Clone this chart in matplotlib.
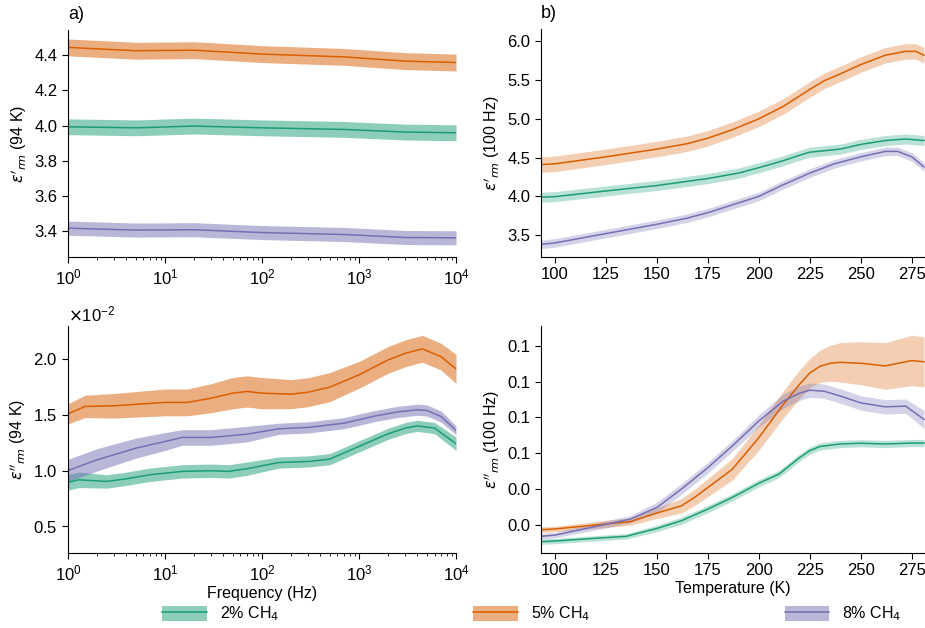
import numpy as np
import matplotlib
matplotlib.use("Agg")
import matplotlib.pyplot as plt
from matplotlib.ticker import FormatStrFormatter, ScalarFormatter, FixedLocator

plt.rcParams['font.family'] = ['Liberation Sans', 'DejaVu Sans']
plt.rcParams['font.size'] = 11.5
plt.rcParams['mathtext.fontset'] = 'dejavusans'

labels = ['2% CH$_4$', '5% CH$_4$', '8% CH$_4$']
colors = ['#1b9e77', '#d95f02', '#7570b3']

# a) top: eps' at 94 K vs frequency
freq_a = [1, 5, 20, 100, 700, 3000, 10000]
eps1_f = {
    '2': [3.993, 3.987, 3.997, 3.987, 3.978, 3.963, 3.959],
    '5': [4.444, 4.425, 4.428, 4.406, 4.390, 4.366, 4.358],
    '8': [3.417, 3.406, 3.408, 3.392, 3.381, 3.364, 3.362],
}
eps1_f_err = {'2': 0.045, '5': 0.048, '8': 0.04}

# a) bottom: eps'' at 94 K vs frequency (x1e-2)
freq_o5 = [1, 1.5, 3, 10, 17, 30, 50, 70, 100, 200, 300, 500, 1000, 2000, 3000, 4500, 7000, 10000]
eps2_f_5 = [1.508, 1.574, 1.58, 1.61, 1.61, 1.648, 1.693, 1.708, 1.693, 1.684, 1.702, 1.747, 1.857, 1.991, 2.05, 2.09, 2.02, 1.91]
err2_f_5 = [0.09, 0.1, 0.11, 0.12, 0.12, 0.13, 0.14, 0.14, 0.14, 0.13, 0.13, 0.13, 0.12, 0.12, 0.12, 0.12, 0.12, 0.13]

freq_p8 = [1, 2, 5, 10, 15, 30, 70, 150, 300, 700, 1500, 2500, 4000, 5000, 7000, 10000]
eps2_f_8 = [1.0, 1.096, 1.2, 1.26, 1.296, 1.296, 1.326, 1.374, 1.386, 1.424, 1.49, 1.525, 1.544, 1.538, 1.484, 1.359]
err2_f_8 = [0.1, 0.1, 0.09, 0.08, 0.07, 0.07, 0.07, 0.05, 0.05, 0.05, 0.05, 0.05, 0.05, 0.05, 0.05, 0.04]

freq_g2 = [1, 1.3, 2.5, 4, 7, 15, 30, 45, 70, 150, 300, 500, 1000, 2000, 3000, 4000, 6000, 10000]
eps2_f_2 = [0.894, 0.917, 0.902, 0.926, 0.962, 0.992, 0.998, 0.992, 1.016, 1.072, 1.081, 1.102, 1.216, 1.329, 1.38, 1.40, 1.38, 1.24]
err2_f_2 = [0.07, 0.07, 0.06, 0.06, 0.06, 0.06, 0.06, 0.06, 0.06, 0.05, 0.05, 0.05, 0.05, 0.05, 0.05, 0.05, 0.05, 0.06]

# b) top: eps' at 100 Hz vs temperature
temp_b1 = {
    '2': [93, 100, 125, 150, 175, 190, 200, 212, 220, 225, 240, 250, 262, 272, 281],
    '5': [93, 100, 125, 150, 165, 175, 187, 200, 212, 225, 232, 240, 250, 262, 272, 277, 281],
    '8': [93, 100, 125, 150, 165, 175, 187, 200, 212, 225, 237, 250, 262, 268, 275, 281],
}
eps1_t = {
    '2': [3.99, 3.996, 4.07, 4.14, 4.23, 4.30, 4.37, 4.46, 4.53, 4.57, 4.61, 4.67, 4.72, 4.74, 4.72],
    '5': [4.41, 4.42, 4.51, 4.61, 4.68, 4.75, 4.86, 5.00, 5.16, 5.38, 5.49, 5.58, 5.70, 5.82, 5.87, 5.87, 5.82],
    '8': [3.38, 3.40, 3.52, 3.64, 3.72, 3.79, 3.89, 4.00, 4.15, 4.30, 4.42, 4.51, 4.58, 4.58, 4.51, 4.38],
}
eps1_t_err = {'2': 0.065, '5': 0.1, '8': 0.055}

# b) bottom: eps'' at 100 Hz vs temperature
temp_b2 = {
    '2': [93, 100, 125, 135, 142, 150, 162, 175, 187, 200, 210, 220, 225, 230, 240, 250, 262, 275, 281],
    '5': [93, 100, 125, 137, 150, 162, 168, 175, 187, 200, 212, 220, 225, 230, 235, 240, 250, 262, 275, 281],
    '8': [93, 100, 125, 137, 150, 162, 175, 187, 200, 212, 220, 225, 232, 240, 250, 262, 272, 281],
}
eps2_t = {
    '2': [0.0107, 0.0111, 0.0130, 0.0137, 0.0158, 0.0181, 0.0224, 0.0289, 0.0354, 0.0433, 0.0485, 0.0576, 0.0615, 0.0638, 0.0652, 0.0656, 0.0652, 0.0657, 0.0657],
    '5': [0.0174, 0.0178, 0.0206, 0.0219, 0.0267, 0.0307, 0.0350, 0.0409, 0.0511, 0.0687, 0.0872, 0.0985, 0.1048, 0.1085, 0.1102, 0.1107, 0.1102, 0.1087, 0.1117, 0.111],
    '8': [0.0137, 0.0144, 0.0204, 0.0233, 0.0298, 0.040, 0.052, 0.0641, 0.078, 0.0891, 0.0935, 0.0952, 0.0946, 0.0919, 0.0881, 0.0859, 0.0863, 0.0789],
}
eps2_t_err = {
    '2': [0.0015, 0.0015, 0.0015, 0.0015, 0.0016, 0.0018, 0.002, 0.002, 0.002, 0.002, 0.002, 0.002, 0.002, 0.002, 0.002, 0.002, 0.002, 0.002, 0.002],
    '5': [0.0015, 0.0015, 0.002, 0.002, 0.003, 0.004, 0.0045, 0.005, 0.006, 0.007, 0.0075, 0.008, 0.008, 0.009, 0.01, 0.011, 0.012, 0.013, 0.014, 0.014],
    '8': [0.0015, 0.0015, 0.002, 0.002, 0.003, 0.003, 0.003, 0.003, 0.0035, 0.004, 0.004, 0.004, 0.004, 0.004, 0.004, 0.004, 0.004, 0.005],
}

keys = ['2', '5', '8']

fig = plt.figure(figsize=(9.25, 6.28), dpi=100)
ax1 = fig.add_axes([0.0735, 0.591, 0.4195, 0.361])
ax2 = fig.add_axes([0.0735, 0.1194, 0.4195, 0.3616])
ax3 = fig.add_axes([0.5845, 0.591, 0.4155, 0.363])
ax4 = fig.add_axes([0.5845, 0.1194, 0.4155, 0.3616])


def band(ax, x, y, e, c, a):
    x = np.asarray(x)
    y = np.asarray(y)
    e = np.asarray(e)
    ax.fill_between(x, y - e, y + e, color=c, alpha=a, lw=0)
    ax.plot(x, y, color=c, lw=1.1)


for k, c in zip(keys, colors):
    band(ax1, freq_a, eps1_f[k], eps1_f_err[k], c, 0.5)

band(ax2, freq_g2, np.array(eps2_f_2) * 1e-2, np.array(err2_f_2) * 1e-2, colors[0], 0.5)
band(ax2, freq_o5, np.array(eps2_f_5) * 1e-2, np.array(err2_f_5) * 1e-2, colors[1], 0.5)
band(ax2, freq_p8, np.array(eps2_f_8) * 1e-2, np.array(err2_f_8) * 1e-2, colors[2], 0.5)

for k, c in zip(keys, colors):
    band(ax3, temp_b1[k], eps1_t[k], eps1_t_err[k], c, 0.3)
    band(ax4, temp_b2[k], eps2_t[k], eps2_t_err[k], c, 0.3)

for ax in (ax1, ax2):
    ax.set_xscale('log')
    ax.set_xlim(1, 1e4)
for ax in (ax3, ax4):
    ax.set_xlim(93, 281.5)
    ax.set_xticks([100, 125, 150, 175, 200, 225, 250, 275])

ax1.set_ylim(3.254, 4.542)
ax1.set_yticks([3.4, 3.6, 3.8, 4.0, 4.2, 4.4])
ax2.set_ylim(0.261e-2, 2.295e-2)
ax2.set_yticks([0.005, 0.010, 0.015, 0.020])
fmt = ScalarFormatter(useMathText=True)
fmt.set_powerlimits((-1, 1))
ax2.yaxis.set_major_formatter(fmt)
ax3.set_ylim(3.22, 6.16)
ax3.set_yticks([3.5, 4.0, 4.5, 5.0, 5.5, 6.0])
ax3.yaxis.set_major_formatter(FormatStrFormatter('%.1f'))
ax4.set_ylim(0.0044, 0.131)
ax4.yaxis.set_major_locator(FixedLocator([0.02, 0.04, 0.06, 0.08, 0.10, 0.12]))
ax4.yaxis.set_major_formatter(FormatStrFormatter('%.1f'))

ax1.set_ylabel(r"$\epsilon'_{rm}$ (94 K)")
ax2.set_ylabel(r"$\epsilon''_{rm}$ (94 K)")
ax3.set_ylabel(r"$\epsilon'_{rm}$ (100 Hz)")
ax4.set_ylabel(r"$\epsilon''_{rm}$ (100 Hz)")
ax2.set_xlabel('Frequency (Hz)', labelpad=2)
ax4.set_xlabel('Temperature (K)', labelpad=2)

for ax in (ax1, ax2, ax3, ax4):
    ax.spines['top'].set_visible(False)
    ax.spines['right'].set_visible(False)
    ax.tick_params(direction='out', length=4, width=0.8, labelsize=12)
    ax.tick_params(which='minor', length=2.5, width=0.6)
ax2.yaxis.get_offset_text().set_fontsize(12)

ax1.text(0.0, 1.03, 'a)', transform=ax1.transAxes, fontsize=13, ha='left', va='bottom')
ax3.text(0.0, 1.03, 'b)', transform=ax3.transAxes, fontsize=13, ha='left', va='bottom')

handles = []
for c in colors:
    p = plt.Rectangle((0, 0), 1, 1, color=c, alpha=0.5, lw=0)
    l = plt.Line2D([], [], color=c, lw=1.1)
    handles.append((p, l))
fig.legend(handles, labels, loc='lower left', bbox_to_anchor=(0.165, -0.008, 0.82, 0.05),
           ncol=3, mode='expand', frameon=False, handlelength=2.8, handleheight=1.1,
           fontsize=11.5, borderaxespad=0.2)

fig.savefig('out.png', dpi=100)
